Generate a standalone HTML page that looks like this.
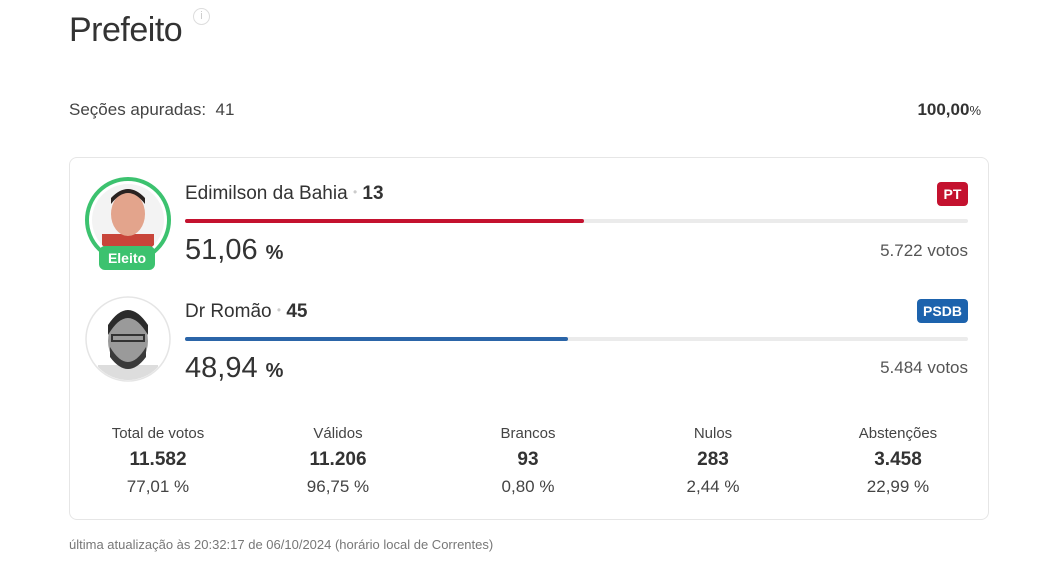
<!DOCTYPE html>
<html><head><meta charset="utf-8"><style>
*{margin:0;padding:0;box-sizing:border-box}
body{width:1056px;height:563px;background:#fff;font-family:"Liberation Sans",sans-serif;color:#333;position:relative;overflow:hidden}
.a{position:absolute;white-space:nowrap;line-height:1}
.c{text-align:center;width:180px;margin-left:-90px}
.r{text-align:right}
</style></head><body>
<div class="a" style="left:69px;top:13px;font-size:34px;color:#333;letter-spacing:-0.5px">Prefeito</div>
<div class="a" style="left:193px;top:8px;width:17px;height:17px;border:1px solid #ddd;border-radius:50%;font-size:11px;color:#ccc;text-align:center;line-height:15px">i</div>
<div class="a" style="left:69px;top:101px;font-size:17px;color:#444">Seções apuradas:&nbsp; 41</div>
<div class="a r" style="right:75px;top:101px;font-size:17px;color:#333;font-weight:bold">100,00<span style="font-size:13px;font-weight:normal">%</span></div>

<div class="a" style="left:69px;top:157px;width:920px;height:363px;border:1px solid #e6e6e6;border-radius:8px"></div>

<!-- candidate 1 -->
<svg class="a" style="left:84px;top:176px" width="90" height="96">
<defs><clipPath id="c1"><circle cx="44" cy="44" r="36"/></clipPath></defs>
<circle cx="44" cy="44" r="41" fill="none" stroke="#3cc26f" stroke-width="4"/>
<g clip-path="url(#c1)"><rect width="90" height="90" fill="#f3f3f3"/>
<rect x="18" y="58" width="52" height="30" fill="#c8453a"/>
<ellipse cx="44" cy="38" rx="17" ry="22" fill="#e3a48c"/>
<path d="M27 28 Q44 6 61 28 L61 22 Q44 4 27 22Z" fill="#2a2220"/></g>
<rect x="15" y="70" width="56" height="24" rx="6" fill="#3cc26f"/>
<text x="43" y="87" font-family="Liberation Sans" font-weight="bold" font-size="14" fill="#fff" text-anchor="middle">Eleito</text>
</svg>
<div class="a" style="left:185px;top:184px;font-size:19px;color:#333">Edimilson da Bahia <span style="color:#ccc;font-size:12px;vertical-align:3px">•</span> <b>13</b></div>
<div class="a" style="left:937px;top:182px;width:31px;height:24px;background:#c4122f;border-radius:4px;color:#fff;font-weight:bold;font-size:14px;text-align:center;line-height:24px">PT</div>
<div class="a" style="left:185px;top:219px;width:783px;height:4px;background:#ebebeb;border-radius:2px"></div>
<div class="a" style="left:185px;top:219px;width:399px;height:4px;background:#c4122f;border-radius:2px"></div>
<div class="a" style="left:185px;top:236px;font-size:29px;color:#333">51,06 <span style="font-size:20px;font-weight:bold">%</span></div>
<div class="a r" style="right:88px;top:242px;font-size:17px;color:#555">5.722 votos</div>

<!-- candidate 2 -->
<svg class="a" style="left:84px;top:295px" width="90" height="90">
<defs><clipPath id="c3"><circle cx="44" cy="44" r="41"/></clipPath></defs>
<circle cx="44" cy="44" r="42" fill="#fff" stroke="#e5e5e5" stroke-width="1.5"/>
<g clip-path="url(#c3)">
<rect x="14" y="70" width="60" height="30" fill="#ddd"/>
<ellipse cx="44" cy="46" rx="20" ry="26" fill="#9a9a9a"/>
<path d="M24 40 Q44 6 64 40 L64 30 Q44 0 24 30Z" fill="#2b2b2b"/>
<path d="M26 52 Q44 82 62 52 L62 62 Q44 86 26 62Z" fill="#3a3a3a"/>
<rect x="28" y="40" width="32" height="6" fill="none" stroke="#333" stroke-width="2"/></g>
</svg>
<div class="a" style="left:185px;top:302px;font-size:19px;color:#333">Dr Romão <span style="color:#ccc;font-size:12px;vertical-align:3px">•</span> <b>45</b></div>
<div class="a" style="left:917px;top:299px;width:51px;height:24px;background:#1d63ad;border-radius:4px;color:#fff;font-weight:bold;font-size:14px;text-align:center;line-height:24px">PSDB</div>
<div class="a" style="left:185px;top:337px;width:783px;height:4px;background:#ebebeb;border-radius:2px"></div>
<div class="a" style="left:185px;top:337px;width:383px;height:4px;background:#2b65a8;border-radius:2px"></div>
<div class="a" style="left:185px;top:354px;font-size:29px;color:#333">48,94 <span style="font-size:20px;font-weight:bold">%</span></div>
<div class="a r" style="right:88px;top:359px;font-size:17px;color:#555">5.484 votos</div>

<!-- stats -->
<div class="a c" style="left:158px;top:426px;font-size:15px;color:#444">Total de votos</div>
<div class="a c" style="left:158px;top:450px;font-size:19px;font-weight:bold">11.582</div>
<div class="a c" style="left:158px;top:478px;font-size:17px;color:#444">77,01 %</div>
<div class="a c" style="left:338px;top:426px;font-size:15px;color:#444">Válidos</div>
<div class="a c" style="left:338px;top:450px;font-size:19px;font-weight:bold">11.206</div>
<div class="a c" style="left:338px;top:478px;font-size:17px;color:#444">96,75 %</div>
<div class="a c" style="left:528px;top:426px;font-size:15px;color:#444">Brancos</div>
<div class="a c" style="left:528px;top:450px;font-size:19px;font-weight:bold">93</div>
<div class="a c" style="left:528px;top:478px;font-size:17px;color:#444">0,80 %</div>
<div class="a c" style="left:713px;top:426px;font-size:15px;color:#444">Nulos</div>
<div class="a c" style="left:713px;top:450px;font-size:19px;font-weight:bold">283</div>
<div class="a c" style="left:713px;top:478px;font-size:17px;color:#444">2,44 %</div>
<div class="a c" style="left:898px;top:426px;font-size:15px;color:#444">Abstenções</div>
<div class="a c" style="left:898px;top:450px;font-size:19px;font-weight:bold">3.458</div>
<div class="a c" style="left:898px;top:478px;font-size:17px;color:#444">22,99 %</div>

<div class="a" style="left:69px;top:538px;font-size:13px;color:#777">última atualização às 20:32:17 de 06/10/2024 (horário local de Correntes)</div>
</body></html>
